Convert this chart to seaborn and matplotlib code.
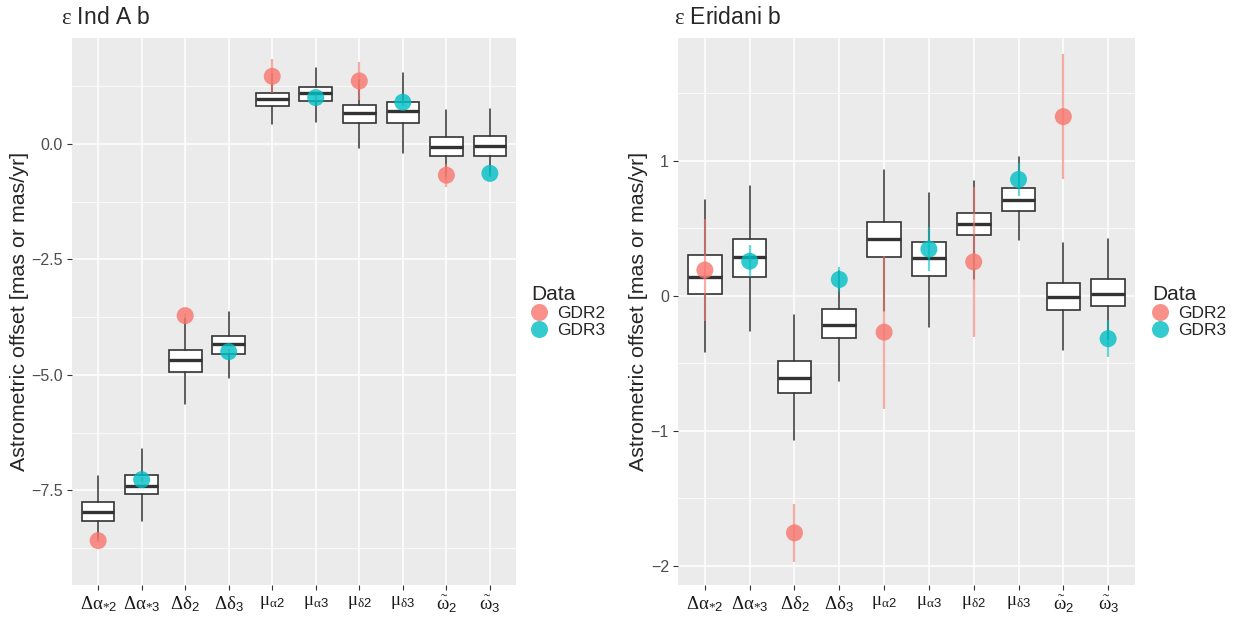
import numpy as np
import pandas as pd
import matplotlib.pyplot as plt
import seaborn as sns

# x-axis categories (same for both panels)
params = [r'$\Delta\alpha_{*\mathsf{2}}$', r'$\Delta\alpha_{*\mathsf{3}}$',
          r'$\Delta\delta_{\mathsf{2}}$', r'$\Delta\delta_{\mathsf{3}}$',
          r'$\mu_{\alpha\mathsf{2}}$', r'$\mu_{\alpha\mathsf{3}}$',
          r'$\mu_{\delta\mathsf{2}}$', r'$\mu_{\delta\mathsf{3}}$',
          r'$\tilde{\omega}_{\mathsf{2}}$', r'$\tilde{\omega}_{\mathsf{3}}$']
catalog = ["GDR2", "GDR3"] * 5

# eps Ind A b: box summaries of the posterior offsets
ind_lo = [-8.58, -8.17, -5.63, -5.06, 0.42, 0.48, -0.10, -0.19, -0.72, -0.70]
ind_q1 = [-8.17, -7.58, -4.94, -4.55, 0.81, 0.92, 0.45, 0.46, -0.27, -0.26]
ind_med = [-7.97, -7.40, -4.69, -4.34, 0.97, 1.11, 0.66, 0.70, -0.065, -0.05]
ind_q3 = [-7.76, -7.17, -4.46, -4.17, 1.10, 1.24, 0.83, 0.91, 0.14, 0.16]
ind_hi = [-7.19, -6.61, -3.78, -3.65, 1.52, 1.64, 1.38, 1.54, 0.74, 0.76]
# eps Ind A b: Gaia values and errors
ind_val = [-8.59, -7.27, -3.72, -4.50, 1.46, 1.00, 1.36, 0.90, -0.68, -0.64]
ind_err = [0.05, 0.05, 0.05, 0.05, 0.37, 0.08, 0.41, 0.08, 0.25, 0.05]

# eps Eridani b: box summaries
eri_lo = [-0.42, -0.26, -1.07, -0.63, -0.11, -0.23, 0.12, 0.41, -0.40, -0.32]
eri_q1 = [0.01, 0.14, -0.72, -0.315, 0.284, 0.146, 0.45, 0.63, -0.106, -0.078]
eri_med = [0.14, 0.286, -0.61, -0.215, 0.42, 0.277, 0.53, 0.71, -0.01, 0.015]
eri_q3 = [0.30, 0.42, -0.48, -0.10, 0.545, 0.40, 0.61, 0.795, 0.096, 0.12]
eri_hi = [0.71, 0.81, -0.14, 0.18, 0.93, 0.76, 0.85, 1.03, 0.39, 0.42]
# eps Eridani b: Gaia values and errors
eri_val = [0.19, 0.255, -1.755, 0.12, -0.27, 0.345, 0.25, 0.86, 1.325, -0.318]
eri_err = [0.38, 0.12, 0.215, 0.095, 0.565, 0.16, 0.555, 0.12, 0.465, 0.135]

palette = {"GDR2": "#F8766D", "GDR3": "#00BFC4"}

sns.set_theme(style="darkgrid", rc={"axes.facecolor": "#EBEBEB"})
plt.rcParams['font.family'] = ['Liberation Sans', 'DejaVu Sans']
plt.rcParams['mathtext.fontset'] = 'custom'
plt.rcParams['mathtext.rm'] = 'Liberation Serif'
plt.rcParams['mathtext.sf'] = 'Liberation Sans'
plt.rcParams['mathtext.default'] = 'rm'


def offset_panel(ax, lo, q1, med, q3, hi, val, err, ylim, major, minor, ticklabels, leg_x):
    """
    Boxplots of the posterior offsets with the Gaia points on top.
    """
    pos = np.arange(len(params))
    stats = [dict(whislo=a, q1=b, med=c, q3=d, whishi=e, fliers=[])
             for a, b, c, d, e in zip(lo, q1, med, q3, hi)]
    ax.bxp(stats, positions=pos, widths=0.75, patch_artist=True,
           showfliers=False, showcaps=False,
           boxprops=dict(facecolor="white", edgecolor="#333333", linewidth=1.2),
           medianprops=dict(color="#333333", linewidth=2.4),
           whiskerprops=dict(color="#333333", linewidth=1.1),
           zorder=2)

    df = pd.DataFrame({"pos": pos, "val": val, "err": err, "Data": catalog})
    for name, sub in df.groupby("Data"):
        ax.vlines(sub.pos, sub.val - sub.err, sub.val + sub.err,
                  color=palette[name], alpha=0.6, linewidth=1.6, zorder=3)
    sns.scatterplot(data=df, x="pos", y="val", hue="Data", palette=palette,
                    s=150, alpha=0.8, edgecolor="none", ax=ax, zorder=4)

    ax.set_xlim(-0.6, len(params) - 0.4)
    ax.set_ylim(*ylim)
    ax.set_xticks(pos)
    ax.set_xticklabels(params, fontsize=13.5, color="#1A1A1A")
    ax.set_yticks(major)
    ax.set_yticklabels(ticklabels, fontsize=11.5, color="#4D4D4D")
    ax.set_yticks(minor, minor=True)
    ax.grid(which="major", color="white", linewidth=1.1)
    ax.grid(which="minor", axis="y", color="white", linewidth=0.55)
    ax.tick_params(which="major", bottom=True, left=True, length=3.5,
                   width=0.8, color="#333333", pad=3)
    ax.tick_params(which="minor", length=0)
    for s in ax.spines.values():
        s.set_visible(False)
    ax.set_xlabel("")
    ax.set_ylabel("Astrometric offset [mas or mas/yr]", fontsize=15.4, labelpad=2)

    sns.move_legend(ax, "center left", bbox_to_anchor=(leg_x, 0.5), frameon=False,
                    title="Data", title_fontsize=15, fontsize=12.5,
                    handlelength=0.9, handletextpad=0.6, labelspacing=0.1,
                    borderpad=0, borderaxespad=0)
    ax.get_legend()._legend_box.align = "left"


fig = plt.figure(figsize=(12.44, 6.18), dpi=100)
ax1 = fig.add_axes([72 / 1244, 33 / 618, 444 / 1244, 547 / 618])
ax2 = fig.add_axes([678 / 1244, 33 / 618, 457 / 1244, 547 / 618])

offset_panel(ax1, ind_lo, ind_q1, ind_med, ind_q3, ind_hi, ind_val, ind_err,
             (-9.55, 2.29), [-7.5, -5.0, -2.5, 0.0], [-8.75, -6.25, -3.75, -1.25, 1.25],
             ["\u22127.5", "\u22125.0", "\u22122.5", "0.0"], 1.035)
offset_panel(ax2, eri_lo, eri_q1, eri_med, eri_q3, eri_hi, eri_val, eri_err,
             (-2.141, 1.907), [-2, -1, 0, 1], [-1.5, -0.5, 0.5, 1.5],
             ["\u22122", "\u22121", "0", "1"], 1.037)

fig.text(61 / 1244, 1 - 18 / 618, r'$\varepsilon$ Ind A b', fontsize=16.5, va="center")
fig.text(674 / 1244, 1 - 18 / 618, r'$\varepsilon$ Eridani b', fontsize=16.5, va="center")

fig.savefig("out.png", dpi=100)
